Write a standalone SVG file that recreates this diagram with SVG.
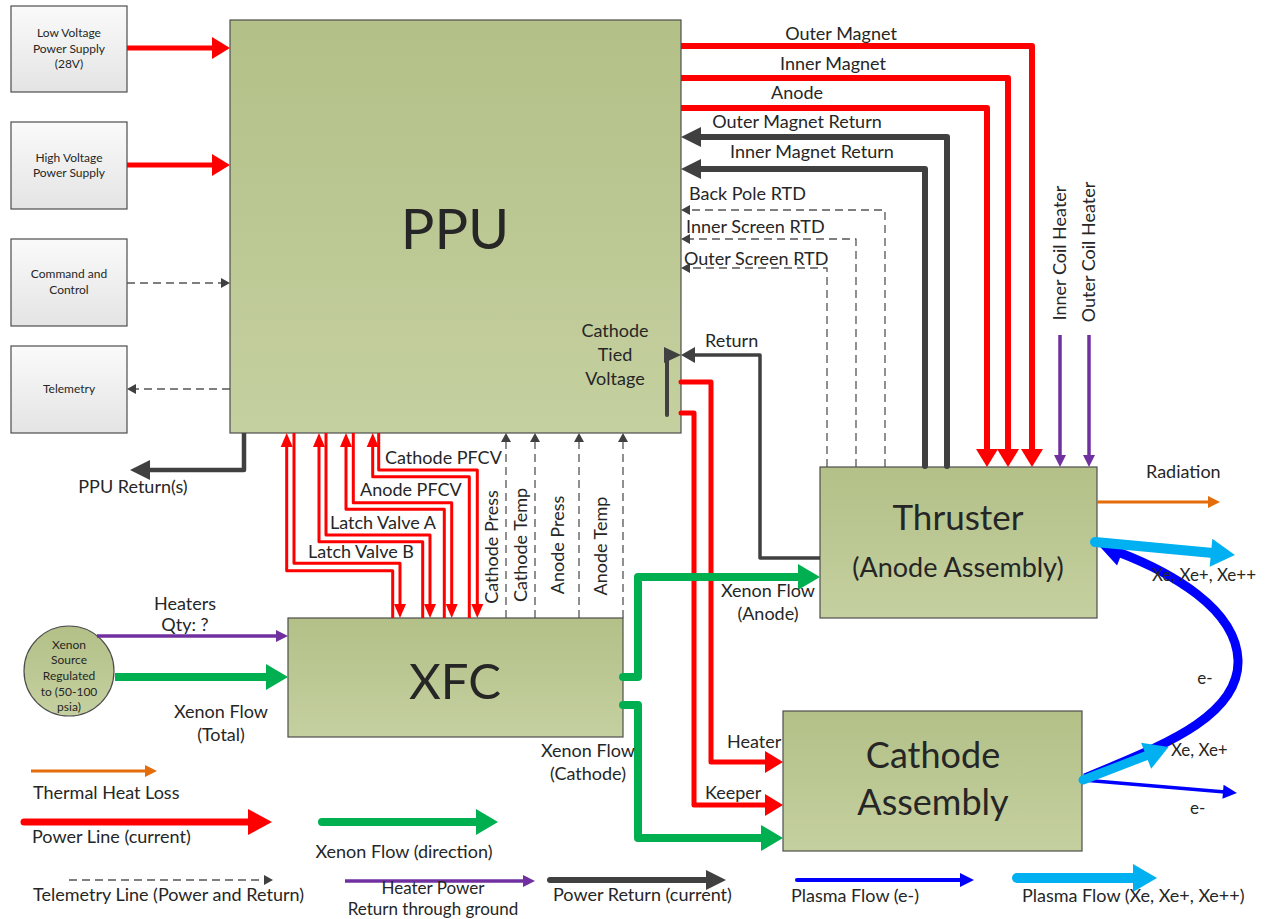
<svg xmlns="http://www.w3.org/2000/svg" width="1267" height="919" viewBox="0 0 1267 919">
<defs>
<linearGradient id="gOlive" x1="0" y1="0" x2="0" y2="1"><stop offset="0" stop-color="#b3c087"/><stop offset="1" stop-color="#c5d0a0"/></linearGradient>
<linearGradient id="gGray" x1="0" y1="0" x2="0" y2="1"><stop offset="0" stop-color="#fafafa"/><stop offset="1" stop-color="#e4e4e4"/></linearGradient>
<marker id="mR" markerUnits="userSpaceOnUse" markerWidth="20" markerHeight="22" refX="2" refY="11" orient="auto" overflow="visible"><path d="M0,0 L18,11 L0,22 z" fill="#ff0000"/></marker>
<marker id="mRL" markerUnits="userSpaceOnUse" markerWidth="26" markerHeight="26" refX="2" refY="13" orient="auto" overflow="visible"><path d="M0,0 L24,13 L0,26 z" fill="#ff0000"/></marker>
<marker id="mRs" markerUnits="userSpaceOnUse" markerWidth="14" markerHeight="12" refX="2" refY="6" orient="auto" overflow="visible"><path d="M0,0 L14,6 L0,12 z" fill="#ff0000"/></marker>
<marker id="mK" markerUnits="userSpaceOnUse" markerWidth="20" markerHeight="20" refX="2" refY="10" orient="auto" overflow="visible"><path d="M0,0 L20,10 L0,20 z" fill="#404040"/></marker>
<marker id="mKs" markerUnits="userSpaceOnUse" markerWidth="14" markerHeight="16" refX="2" refY="8" orient="auto" overflow="visible"><path d="M0,0 L14,8 L0,16 z" fill="#404040"/></marker>
<marker id="mD" markerUnits="userSpaceOnUse" markerWidth="9" markerHeight="10" refX="1" refY="5" orient="auto" overflow="visible"><path d="M0,0 L9,5 L0,10 z" fill="#404040"/></marker>
<marker id="mG" markerUnits="userSpaceOnUse" markerWidth="22" markerHeight="26" refX="2" refY="13" orient="auto" overflow="visible"><path d="M0,0 L22,13 L0,26 z" fill="#00b050"/></marker>
<marker id="mP" markerUnits="userSpaceOnUse" markerWidth="12" markerHeight="12" refX="2" refY="6" orient="auto" overflow="visible"><path d="M0,0 L12,6 L0,12 z" fill="#7030a0"/></marker>
<marker id="mO" markerUnits="userSpaceOnUse" markerWidth="12" markerHeight="12" refX="2" refY="6" orient="auto" overflow="visible"><path d="M0,0 L12,6 L0,12 z" fill="#e46c0a"/></marker>
<marker id="mB" markerUnits="userSpaceOnUse" markerWidth="14" markerHeight="14" refX="2" refY="7" orient="auto" overflow="visible"><path d="M0,0 L14,7 L0,14 z" fill="#0000ff"/></marker>
<marker id="mBc" markerUnits="userSpaceOnUse" markerWidth="26" markerHeight="26" refX="4" refY="13" orient="auto" overflow="visible"><path d="M0,0 L26,13 L0,26 z" fill="#0000ff"/></marker>
<marker id="mLB" markerUnits="userSpaceOnUse" markerWidth="24" markerHeight="28" refX="2" refY="14" orient="auto" overflow="visible"><path d="M0,0 L24,14 L0,28 z" fill="#00b0f0"/></marker>
</defs>
<style>
.box{fill:url(#gOlive);stroke:#4d4d4d;stroke-width:1.2}
.gbox{fill:url(#gGray);stroke:#4d4d4d;stroke-width:1.2}
text{font-family:Lato,'Liberation Sans',sans-serif;fill:#262626}
.s{font-size:12px}
.xs{font-size:12px}
.m{font-size:18px}
.c{text-anchor:middle}
.ln{fill:none;stroke-linejoin:round}
.red{stroke:#ff0000}
.gry{stroke:#404040}
.dash{stroke:#555555;stroke-width:1.3;stroke-dasharray:8 5}
.grn{stroke:#00b050;stroke-width:8}
.pur{stroke:#7030a0;stroke-width:3.5}
</style>
<rect width="1267" height="919" fill="#ffffff"/>

<g id="lvps"><rect class="gbox" x="11" y="6" width="116" height="86"/><text class="s c" x="69" y="37">Low Voltage</text><text class="s c" x="69" y="53">Power Supply</text><text class="s c" x="69" y="68">(28V)</text></g>
<g id="hvps"><rect class="gbox" x="11" y="122" width="116" height="87"/><text class="s c" x="69" y="162">High Voltage</text><text class="s c" x="69" y="177">Power Supply</text></g>
<g id="cmd"><rect class="gbox" x="11" y="239" width="116" height="87"/><text class="s c" x="69" y="278">Command and</text><text class="s c" x="69" y="294">Control</text></g>
<g id="tlm"><rect class="gbox" x="11" y="346" width="116" height="87"/><text class="s c" x="69" y="393">Telemetry</text></g>

<g id="ppu"><rect class="box" x="230" y="20" width="451" height="413"/><text class="c" x="455" y="249" font-size="56">PPU</text>
<text class="m c" x="615" y="337">Cathode</text><text class="m c" x="615" y="361">Tied</text><text class="m c" x="615" y="385">Voltage</text></g>

<g id="xenon-source"><ellipse cx="69" cy="671" rx="45" ry="45" fill="url(#gOlive)" stroke="#4d4d4d" stroke-width="1.2"/>
<text class="xs c" x="69" y="649">Xenon</text><text class="xs c" x="69" y="664">Source</text><text class="xs c" x="69" y="680">Regulated</text><text class="xs c" x="69" y="696">to (50-100</text><text class="xs c" x="69" y="711">psia)</text></g>

<g id="xfc"><rect class="box" x="288" y="618" width="335" height="119"/><text class="c" x="455" y="699" font-size="49">XFC</text></g>

<g id="thruster"><rect class="box" x="820" y="467" width="277" height="151"/><text class="c" x="958" y="530" font-size="35">Thruster</text><text class="c" x="958" y="577" font-size="27">(Anode Assembly)</text></g>

<g id="cathode"><rect class="box" x="783" y="711" width="299" height="140"/><text class="c" x="933" y="768" font-size="36">Cathode</text><text class="c" x="933" y="815" font-size="36">Assembly</text></g>

<g id="connectors">
<path class="ln red" stroke-width="5" d="M127,48 H214" marker-end="url(#mR)"/>
<path class="ln red" stroke-width="5" d="M127,165 H214" marker-end="url(#mR)"/>
<path class="ln dash" d="M127,283 H222" marker-end="url(#mD)"/>
<path class="ln dash" d="M230,389 H135" marker-end="url(#mD)"/>
<path class="ln gry" stroke-width="4.5" d="M244,433 V470 H148" marker-end="url(#mK)"/>

<path class="ln red" stroke-width="3" d="M392.7,618 V570.7 H286.7 V445" marker-end="url(#mRs)"/>
<path class="ln red" stroke-width="3" d="M294,433 V563.3 H400 V606" marker-end="url(#mRs)"/>
<path class="ln red" stroke-width="3" d="M422.7,618 V541.7 H319 V445" marker-end="url(#mRs)"/>
<path class="ln red" stroke-width="3" d="M326,433 V535 H430 V606" marker-end="url(#mRs)"/>
<path class="ln red" stroke-width="3" d="M444.3,618 V509.3 H346 V445" marker-end="url(#mRs)"/>
<path class="ln red" stroke-width="3" d="M353.3,433 V502.7 H451.7 V606" marker-end="url(#mRs)"/>
<path class="ln red" stroke-width="3" d="M469.3,618 V476.7 H372.7 V445" marker-end="url(#mRs)"/>
<path class="ln red" stroke-width="3" d="M378.7,433 V470 H477.3 V606" marker-end="url(#mRs)"/>

<path class="ln dash" d="M506,618 V441" marker-end="url(#mD)"/>
<path class="ln dash" d="M535,618 V441" marker-end="url(#mD)"/>
<path class="ln dash" d="M579,618 V441" marker-end="url(#mD)"/>
<path class="ln dash" d="M623,618 V441" marker-end="url(#mD)"/>

<path class="ln red" stroke-width="6" d="M681,46 H1032 V451" marker-end="url(#mR)"/>
<path class="ln red" stroke-width="6" d="M681,78 H1008 V451" marker-end="url(#mR)"/>
<path class="ln red" stroke-width="6" d="M681,108 H987 V451" marker-end="url(#mR)"/>
<path class="ln gry" stroke-width="6" stroke-linecap="round" d="M947,466 V137 H699" marker-end="url(#mK)"/>
<path class="ln gry" stroke-width="6" stroke-linecap="round" d="M925,466 V169 H699" marker-end="url(#mK)"/>
<path class="ln dash" d="M885,467 V210 H689" marker-end="url(#mD)"/>
<path class="ln dash" d="M856,467 V239 H689" marker-end="url(#mD)"/>
<path class="ln dash" d="M827,467 V268 H689" marker-end="url(#mD)"/>
<path class="ln gry" stroke-width="3.5" d="M820,558 H760 V355 H693" marker-end="url(#mKs)"/>
<path class="ln gry" stroke-width="4" stroke-linecap="round" d="M667,415 V354"/>
<polygon points="664,347 681,355 664,363" fill="#404040"/>
<path class="ln pur" d="M1060,335 V457" marker-end="url(#mP)"/>
<path class="ln pur" d="M1089,335 V457" marker-end="url(#mP)"/>

<path class="ln red" stroke-width="5" stroke-linecap="round" d="M681,382 H711 V762 H767" marker-end="url(#mR)"/>
<path class="ln red" stroke-width="5" stroke-linecap="round" d="M681,413 H694 V805 H767" marker-end="url(#mR)"/>

<path class="ln grn" stroke-linecap="round" d="M623,677 H638 V577 H800" marker-end="url(#mG)"/>
<path class="ln grn" stroke-linecap="round" d="M623,705 H638 V838 H763" marker-end="url(#mG)"/>
<path class="ln grn" d="M115,677 H268" marker-end="url(#mG)"/>
<path class="ln pur" d="M97,636 H278" marker-end="url(#mP)"/>

<path class="ln" stroke="#e46c0a" stroke-width="3" d="M1097,502 H1210" marker-end="url(#mO)"/>
<path class="ln" stroke="#0000ff" stroke-width="9" d="M1085,778 C1150,750 1240,720 1238,660 C1236,608 1170,572 1118,552" marker-end="url(#mBc)"/>
<path class="ln" stroke="#00b0f0" stroke-width="10" stroke-linecap="round" d="M1095,542 L1213,553" marker-end="url(#mLB)"/>
<path class="ln" stroke="#0000ff" stroke-width="3.5" d="M1083,780 L1225,792" marker-end="url(#mB)"/>
<path class="ln" stroke="#00b0f0" stroke-width="9" stroke-linecap="round" d="M1083,780 L1148,755" marker-end="url(#mLB)"/>
</g>

<g id="labels">
<text class="m c" x="841" y="40">Outer Magnet</text>
<text class="m c" x="833" y="70">Inner Magnet</text>
<text class="m c" x="797" y="99">Anode</text>
<text class="m c" x="797" y="128">Outer Magnet Return</text>
<text class="m c" x="812" y="158">Inner Magnet Return</text>
<text class="m" x="689" y="200">Back Pole RTD</text>
<text class="m" x="686" y="233">Inner Screen RTD</text>
<text class="m" x="684" y="265">Outer Screen RTD</text>
<text class="m" x="705" y="347">Return</text>
<text class="m c" transform="translate(1066,253) rotate(-90)">Inner Coil Heater</text>
<text class="m c" transform="translate(1095,252) rotate(-90)">Outer Coil Heater</text>
<text class="m" x="1146" y="478">Radiation</text>
<text x="1152" y="581" font-size="17">Xe, Xe+, Xe++</text>
<text class="c" x="1205" y="684" font-size="17">e-</text>
<text x="1171" y="756" font-size="17">Xe, Xe+</text>
<text x="1190" y="814" font-size="17">e-</text>
<text class="m" x="727" y="748">Heater</text>
<text class="m" x="705" y="799">Keeper</text>
<text class="m c" x="768" y="597">Xenon Flow</text>
<text class="m c" x="768" y="620">(Anode)</text>
<text class="m c" x="588" y="757">Xenon Flow</text>
<text class="m c" x="588" y="780">(Cathode)</text>
<text class="m c" x="185" y="610">Heaters</text>
<text class="m c" x="185" y="631">Qty: ?</text>
<text class="m c" x="221" y="718">Xenon Flow</text>
<text class="m c" x="221" y="741">(Total)</text>
<text class="m c" x="133" y="493">PPU Return(s)</text>
<text class="m" x="385" y="464">Cathode PFCV</text>
<text class="m" x="360" y="496">Anode PFCV</text>
<text class="m" x="330" y="529">Latch Valve A</text>
<text class="m" x="308" y="558">Latch Valve B</text>
<text class="m c" transform="translate(498,547) rotate(-90)">Cathode Press</text>
<text class="m c" transform="translate(527,545) rotate(-90)">Cathode Temp</text>
<text class="m c" transform="translate(564,545) rotate(-90)">Anode Press</text>
<text class="m c" transform="translate(607,546) rotate(-90)">Anode Temp</text>
</g>

<g id="legend">
<path class="ln" stroke="#e46c0a" stroke-width="3" d="M31,771 H147" marker-end="url(#mO)"/>
<text class="m" x="33" y="799">Thermal Heat Loss</text>
<path class="ln red" stroke-width="7" stroke-linecap="round" d="M24,822 H250" marker-end="url(#mRL)"/>
<text class="m" x="32" y="843">Power Line (current)</text>
<path class="ln grn" stroke-linecap="round" d="M322,822 H478" marker-end="url(#mG)"/>
<text class="m c" x="404" y="858">Xenon Flow (direction)</text>
<path class="ln dash" d="M69,880 H265" marker-end="url(#mD)"/>
<text class="m" x="33" y="901">Telemetry Line (Power and Return)</text>
<path class="ln pur" d="M345,881 H525" marker-end="url(#mP)"/>
<text class="c" x="433" y="894" font-size="17">Heater Power</text>
<text class="c" x="433" y="915" font-size="17">Return through ground</text>
<path class="ln gry" stroke-width="6" stroke-linecap="round" d="M550,880 H708" marker-end="url(#mK)"/>
<text class="m" x="553" y="901">Power Return (current)</text>
<path class="ln" stroke="#0000ff" stroke-width="4" stroke-linecap="round" d="M797,880 H962" marker-end="url(#mB)"/>
<text class="m" x="791" y="902">Plasma Flow (e-)</text>
<path class="ln" stroke="#00b0f0" stroke-width="10" stroke-linecap="round" d="M1017,878 H1135" marker-end="url(#mLB)"/>
<text class="m" x="1022" y="902">Plasma Flow (Xe, Xe+, Xe++)</text>
</g>
</svg>
